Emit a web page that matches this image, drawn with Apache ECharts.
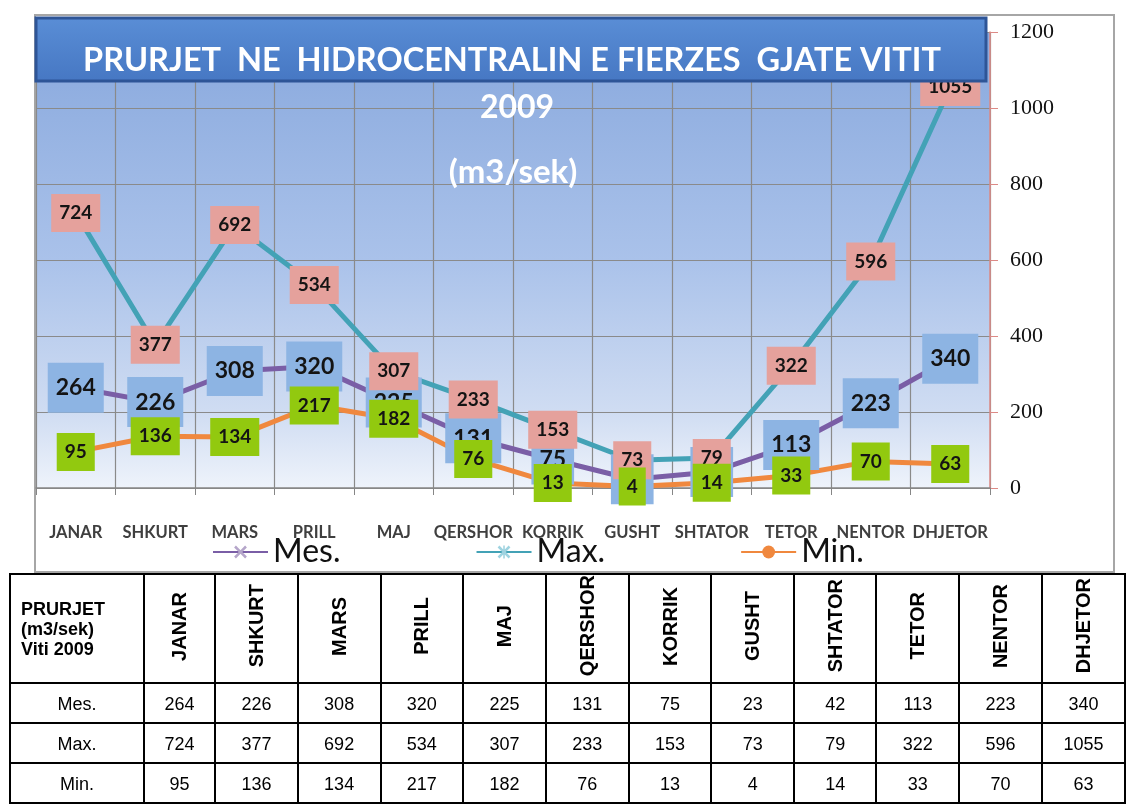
<!DOCTYPE html>
<html>
<head>
<meta charset="utf-8">
<script src="https://cdn.jsdelivr.net/npm/echarts@6/dist/echarts.min.js"></script>
<style>
  html, body { margin: 0; padding: 0; background: #fff; overflow: hidden; }
  #chart { position: absolute; left: 0; top: 0; width: 1126px; height: 804px; }
  #tbl {
    position: absolute; left: 9px; top: 573px;
    border-collapse: collapse; table-layout: fixed;
    font-family: "Liberation Sans", Arial, sans-serif; font-size: 18px; color: #000;
  }
  #tbl td, #tbl th { border: 2px solid #000; padding: 0; text-align: center; vertical-align: middle; }
  #tbl th { font-weight: bold; height: 107px; }
  #tbl td { height: 36px; padding-top: 2px; }
  #tbl th.first { text-align: left; padding-left: 10px; line-height: 20px; font-size: 18px; }
  .rot { display: inline-block; writing-mode: vertical-rl; transform: rotate(180deg); font-size: 20px; }
</style>
</head>
<body>
<div id="chart"></div>
<table id="tbl"></table>
<script>
// muajt e vitit 2009
var months = ['JANAR', 'SHKURT', 'MARS', 'PRILL', 'MAJ', 'QERSHOR', 'KORRIK', 'GUSHT', 'SHTATOR', 'TETOR', 'NENTOR', 'DHJETOR'];
var mesValues = [264, 226, 308, 320, 225, 131, 75, 23, 42, 113, 223, 340];
var maxValues = [724, 377, 692, 534, 307, 233, 153, 73, 79, 322, 596, 1055];
var minValues = [95, 136, 134, 217, 182, 76, 13, 4, 14, 33, 70, 63];
var seriesNames = ['Mes.', 'Max.', 'Min.'];

var xMark = 'path://M0,1.4L1.4,0L5,3.6L8.6,0L10,1.4L6.4,5L10,8.6L8.6,10L5,6.4L1.4,10L0,8.6L3.6,5Z';
var starMark = 'path://M0,1.4L1.4,0L5,3.6L8.6,0L10,1.4L6.4,5L10,8.6L8.6,10L5,6.4L1.4,10L0,8.6L3.6,5Z M4.4,0L5.6,0L5.6,10L4.4,10Z';

function boxLabel(bg, size, pad) {
  return {
    show: true,
    position: 'inside',
    fontFamily: 'Lato',
    fontWeight: 'bold',
    fontSize: size,
    lineHeight: size + 1,
    color: '#141414',
    backgroundColor: bg,
    padding: pad
  };
}

var chart = echarts.init(document.getElementById('chart'));
chart.setOption({
  backgroundColor: '#fff',
  animation: false,
  grid: {
    left: 36, right: 136, top: 32, bottom: 316,
    show: true,
    borderWidth: 0,
    backgroundColor: {
      type: 'linear', x: 0, y: 0, x2: 0, y2: 1,
      colorStops: [
        { offset: 0, color: '#88a8dd' },
        { offset: 0.5, color: '#aac2ea' },
        { offset: 0.83, color: '#cfdcf2' },
        { offset: 1, color: '#eef3fb' }
      ]
    }
  },
  graphic: [
    {
      type: 'rect', z: -1,
      shape: { x: 35, y: 15, width: 1079, height: 557 },
      style: { fill: 'none', stroke: '#a6a6a6', lineWidth: 2 }
    },
    {
      type: 'rect', z: 100,
      shape: { x: 36, y: 18, width: 950, height: 63 },
      style: {
        fill: {
          type: 'linear', x: 0, y: 0, x2: 0, y2: 1,
          colorStops: [{ offset: 0, color: '#5a8ed6' }, { offset: 1, color: '#4677c3' }]
        },
        stroke: '#2e5597', lineWidth: 3
      }
    },
    {
      type: 'text', z: 101, x: 512, y: 61,
      style: {
        text: 'PRURJET  NE  HIDROCENTRALIN E FIERZES  GJATE VITIT',
        fill: '#fff', font: 'bold 32.5px Lato', align: 'center', verticalAlign: 'middle'
      }
    },
    {
      type: 'text', z: 5, x: 517, y: 108,
      style: { text: '2009', fill: '#fff', font: 'bold 32px Lato', align: 'center', verticalAlign: 'middle' }
    },
    {
      type: 'text', z: 5, x: 513, y: 172,
      style: { text: '(m3/sek)', fill: '#fff', font: 'bold 33px Lato', align: 'center', verticalAlign: 'middle' }
    }
  ],
  legend: {
    left: 207, top: 531,
    itemWidth: 55, itemHeight: 16, itemGap: 135,
    textStyle: { fontFamily: 'Lato', fontSize: 32, color: '#111' },
    data: seriesNames
  },
  xAxis: {
    type: 'category',
    data: months,
    boundaryGap: true,
    axisLine: { lineStyle: { color: '#868686', width: 1.5 } },
    axisTick: { show: true, interval: 0, length: 7, lineStyle: { color: '#868686' } },
    splitLine: { show: true, interval: 0, lineStyle: { color: '#8a8a8a', width: 1.2 } },
    axisLabel: { interval: 0, margin: 36, fontFamily: 'Lato', fontWeight: 'bold', fontSize: 16.5, color: '#3f3f3f' }
  },
  yAxis: {
    type: 'value',
    position: 'right',
    min: 0, max: 1200, interval: 200,
    axisLine: { show: true, lineStyle: { color: '#dc8a86', width: 1.5 } },
    axisTick: { show: true, length: 8, lineStyle: { color: '#dc8a86' } },
    splitLine: { show: true, lineStyle: { color: '#8a8a8a', width: 1.2 } },
    axisLabel: {
      margin: 20, fontFamily: 'Liberation Serif', fontSize: 22, color: '#111',
      formatter: function (v) { return String(v); }
    }
  },
  series: [
    {
      name: seriesNames[0], type: 'line', data: mesValues,
      symbol: xMark, symbolSize: 14,
      itemStyle: { color: '#b5a6ca' },
      lineStyle: { color: '#7a5ea6', width: 5 },
      label: boxLabel('#8db4e3', 23, [13, 8])
    },
    {
      name: seriesNames[1], type: 'line', data: maxValues,
      symbol: starMark, symbolSize: 14,
      itemStyle: { color: '#9fd3e0' },
      lineStyle: { color: '#43a2b6', width: 5 },
      label: boxLabel('#e5a19c', 19, [9, 8])
    },
    {
      name: seriesNames[2], type: 'line', data: minValues,
      symbol: 'circle', symbolSize: 13,
      itemStyle: { color: '#f0883e' },
      lineStyle: { color: '#f0883e', width: 5 },
      label: boxLabel('#92c90f', 19, [9, 8])
    }
  ]
});

// tabela poshte grafikut
var tbl = document.getElementById('tbl');
var widths = [135, 72];
for (var i = 2; i <= months.length; i++) widths.push(84);
var html = '<colgroup>' + widths.map(function (w) { return '<col style="width:' + w + 'px">'; }).join('') + '</colgroup>';
html += '<tr><th class="first">PRURJET<br>(m3/sek)<br>Viti 2009</th>';
months.forEach(function (m) { html += '<th><span class="rot">' + m + '</span></th>'; });
html += '</tr>';
[mesValues, maxValues, minValues].forEach(function (row, k) {
  html += '<tr><td>' + seriesNames[k] + '</td>';
  row.forEach(function (v) { html += '<td>' + v + '</td>'; });
  html += '</tr>';
});
tbl.innerHTML = html;
</script>
</body>
</html>
